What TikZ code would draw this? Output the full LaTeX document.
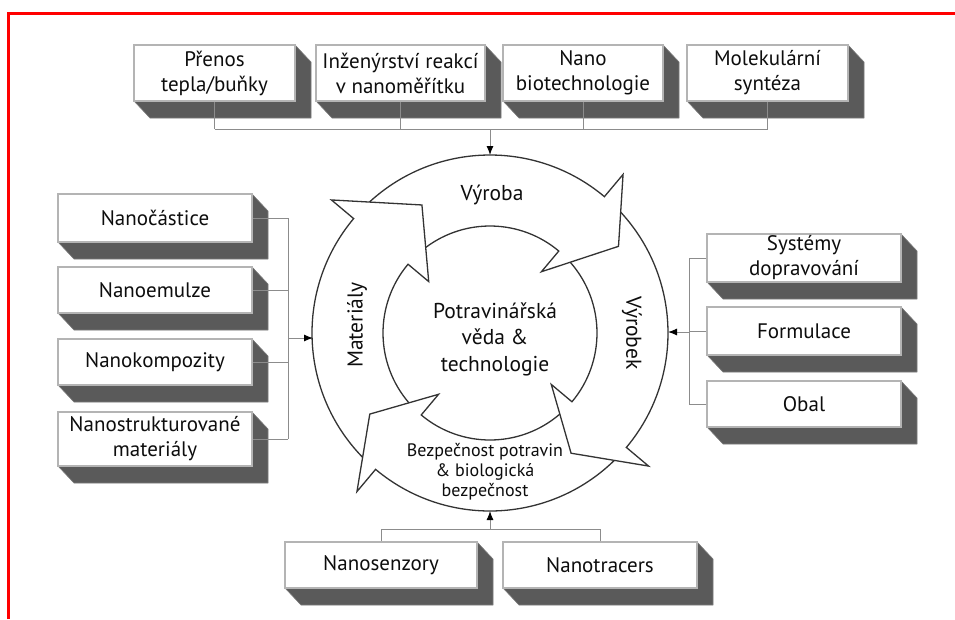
\documentclass[tikz,border=0pt]{standalone}
\usepackage{fontspec}
\setmainfont{PT Sans}
\usetikzlibrary{arrows.meta}
\definecolor{sidec}{HTML}{5A5A5A}
\definecolor{sideedge}{HTML}{7A7A7A}
\definecolor{edgec}{HTML}{B4B4B4}
\definecolor{linec}{HTML}{8C8C8C}
\definecolor{ringc}{HTML}{333333}
\definecolor{txtc}{HTML}{0D0D0D}
% #1 name, #2 x1, #3 y1, #4 x2, #5 y2 (pixels, y downwards), #6 text
\newcommand\xbox[6]{%
  \filldraw[fill=sidec,draw=sideedge,line width=0.6pt,line join=round]
    (#4,-#3) -- (#4+16,-#3-17) -- (#4+16,-#5-17) -- (#2+16,-#5-17) -- (#2,-#5) -- (#4,-#5) -- cycle;
  \node[bx,minimum width=#4-#2,minimum height=#5-#3] (#1) at ({(#2+#4)/2},{-(#3+#5)/2}) {#6};}
% ring arrow: #1 outer tail angle, #2 inner tail angle, #3 base angle, #4 tip angle, #5 tip radius
\newcommand\ringarrowpath[5]{%
  (#1:178pt) arc[start angle=#1, end angle=#3, radius=178pt]
  -- (#3:207pt) -- (#4:#5pt) -- (#3:80pt) -- (#3:107pt)
  arc[start angle=#3, end angle=#2, radius=107pt]}
\begin{document}
\begin{tikzpicture}[x=1pt,y=1pt,
  bx/.style={rectangle,draw=edgec,fill=white,line width=1.4pt,inner sep=0pt,
    align=center,text=txtc,font=\fontsize{21}{25}\selectfont},
  conn/.style={draw=linec,line width=1pt},
  feed/.style={draw=linec,line width=1pt,-{Latex[color=black,length=9pt,width=7pt]}},
  ringline/.style={draw=ringc,line width=1.3pt,line join=miter},
  ringtxt/.style={text=txtc,align=center,font=\fontsize{21.5}{26.5}\selectfont},
  smalltxt/.style={text=txtc,align=center,font=\fontsize{18}{20}\selectfont}]
\useasboundingbox (0,0) rectangle (955,-619);
\draw[red,line width=3pt] (8.5,-619) -- (8.5,-13.5) -- (955,-13.5);

% central ring of four arrows
\begin{scope}[shift={(490,-333)}]
  \fill[white] \ringarrowpath{224.3}{220.7}{140}{118}{145};
  \fill[white] \ringarrowpath{132.6}{126.9}{50}{34}{155};
  \fill[white] \ringarrowpath{42.8}{41.4}{-40}{-56}{145};
  \fill[white] \ringarrowpath{-45.7}{-49.3}{-130}{-146}{145};
  \draw[ringline] \ringarrowpath{224.3}{220.7}{140}{118}{145};
  \draw[ringline] \ringarrowpath{132.6}{126.9}{50}{34}{155};
  \draw[ringline] \ringarrowpath{42.8}{41.4}{-40}{-56}{145};
  \draw[ringline] \ringarrowpath{-45.7}{-49.3}{-130}{-146}{145};
\end{scope}
\coordinate (ctop) at (490,-155);
\coordinate (cbot) at (490,-511);
\coordinate (cleft) at (313,-338);
\coordinate (cright) at (668,-332);

\node[ringtxt] (vyroba) at (492,-195) {Výroba};
\node[ringtxt] (center) at (495,-339) {Potravinářská\\věda \&\\technologie};
\node[ringtxt,rotate=90] (mat) at (357,-325) {Materiály};
\node[ringtxt,rotate=-90] (vyrobek) at (632,-333) {Výrobek};
\node[smalltxt] (bezp) at (485,-472) {Bezpečnost potravin\\\& biologická\\bezpečnost};

% top boxes
\xbox{t1}{134}{45}{295}{101}{Přenos\\tepla/buňky}
\xbox{t2}{316}{45}{485}{101}{Inženýrství reakcí\\v nanoměřítku}
\xbox{t3}{503}{45}{663}{101}{Nano\\biotechnologie}
\xbox{t4}{687}{45}{848}{101}{Molekulární\\syntéza}
% left boxes
\xbox{l1}{58}{194}{252}{242}{Nanočástice}
\xbox{l2}{58}{267}{252}{313}{Nanoemulze}
\xbox{l3}{58}{339}{252}{385}{Nanokompozity}
\xbox{l4}{58}{412}{252}{466}{Nanostrukturované\\materiály}
% right boxes
\xbox{r1}{707}{234}{901}{282}{Systémy\\dopravování}
\xbox{r2}{707}{307}{901}{355}{Formulace}
\xbox{r3}{707}{381}{901}{427}{Obal}
% bottom boxes
\xbox{b1}{285}{542}{477}{588}{Nanosenzory}
\xbox{b2}{503}{542}{697}{588}{Nanotracers}

% connectors: top
\coordinate (busT) at (0,-129);
\foreach \n in {t1,t2,t3,t4} \draw[conn] (\n.south) -- (\n.south |- busT);
\draw[conn] (t1.south |- busT) -- (t4.south |- busT);
\draw[feed] (ctop |- busT) -- (ctop);
% left
\coordinate (busL) at (288,0);
\foreach \n in {l1,l2,l3,l4} \draw[conn] (\n.east) -- (\n.east -| busL);
\draw[conn] (l1.east -| busL) -- (l4.east -| busL);
\draw[feed] (cleft -| busL) -- (cleft);
% right
\coordinate (busR) at (689,0);
\foreach \n in {r1,r2,r3} \draw[conn] (\n.west) -- (\n.west -| busR);
\draw[conn] (r1.west -| busR) -- (r3.west -| busR);
\draw[feed] (cright -| busR) -- (cright);
% bottom
\coordinate (busB) at (0,-529);
\foreach \n in {b1,b2} \draw[conn] (\n.north) -- (\n.north |- busB);
\draw[conn] (b1.north |- busB) -- (b2.north |- busB);
\draw[feed] (cbot |- busB) -- (cbot);
\end{tikzpicture}
\end{document}
